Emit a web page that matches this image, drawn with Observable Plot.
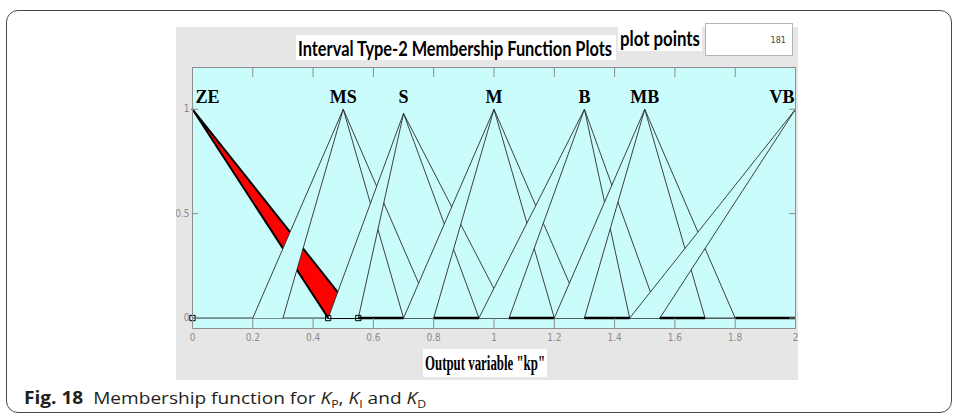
<!DOCTYPE html>
<html>
<head>
<meta charset="utf-8">
<script src="https://cdn.jsdelivr.net/npm/d3@7"></script>
<script src="https://cdn.jsdelivr.net/npm/@observablehq/plot@0.6"></script>
<style>
  html, body { margin: 0; padding: 0; background: #fff; }
  body { width: 955px; height: 415px; position: relative; overflow: hidden; }
  .abs { position: absolute; }
  .box { position: absolute; background: #fff; overflow: visible; white-space: nowrap; }
  .box > span { position: absolute; left: 2px; top: 0; display: inline-block; transform-origin: left center; }
  svg [aria-label*="axis"] text { fill: #8a8a8a; }
</style>
</head>
<body>
<div class="abs" style="left:6px; top:10px; width:944px; height:401px; border:1.5px solid #4a4a4a; border-radius:12px;"></div>
<div class="abs" style="left:176px; top:27px; width:622px; height:353px; background:#e6e6e6;"></div>
<div id="chart" class="abs" style="left:176px; top:27px;"></div>

<div class="box" data-fit="314" style="left:296px; top:35px; width:320px; height:25px;">
  <span style="font: bold 21px Lato, 'Open Sans', sans-serif; line-height:25px; color:#000;">Interval Type-2 Membership Function Plots</span>
</div>
<div class="box" data-fit="80" style="left:618px; top:25px; width:84px; height:26px;">
  <span style="font: bold 21px Lato, 'Open Sans', sans-serif; line-height:26px; color:#000;">plot points</span>
</div>
<div class="abs" style="left:705px; top:23px; width:88px; height:33px; background:#fff; border:1px solid #b5b5b5; box-sizing:border-box;">
  <span class="abs" style="right:6px; top:0; font: 9px 'Liberation Sans Narrow','DejaVu Sans Condensed',sans-serif; line-height:33px; color:#444;">181</span>
</div>
<div class="box" data-fit="120" style="left:423px; top:349px; width:124px; height:28px;">
  <span style="font: bold 20px 'Liberation Serif','Times New Roman',serif; line-height:28px; color:#000;">Output variable "kp"</span>
</div>
<div class="box" data-fit="402" style="left:22px; top:386px; width:410px; height:24px; background:transparent;">
  <span style="font: 17px 'Open Sans','Noto Sans',sans-serif; line-height:24px; color:#231f20;"><b>Fig. 18</b>&nbsp; Membership function for <i>K</i><sub style="font-size:11px">P</sub>, <i>K</i><sub style="font-size:11px">I</sub> and <i>K</i><sub style="font-size:11px">D</sub></span>
</div>

<script>
// ---- data ----
const mfNames      = ["ZE", "MS", "S", "M", "B", "MB", "VB"];
const peaks        = [0, 0.5, 0.7, 1.0, 1.3, 1.5, 2.0];
const peakHeights  = [1, 1, 0.98, 1, 1, 1, 1];
const upperLeft    = [null, 0.2, 0.45, 0.7, 0.95, 1.2, 1.45];
const lowerLeft    = [null, 0.3, 0.55, 0.8, 1.05, 1.3, 1.55];
const lowerRight   = [0.45, 0.7, 0.95, 1.2, 1.45, 1.7, null];
const upperRight   = [0.55, 0.8, 1.05, 1.3, 1.55, 1.8, null];
const zeroSegStart = [0.55, 0.8, 1.05, 1.3, 1.55, 1.8];
const zeroSegEnd   = [0.7, 0.95, 1.2, 1.45, 1.7, 2.0];
const markerX      = [0, 0.45, 0.55];
const xTicks       = [0, 0.2, 0.4, 0.6, 0.8, 1, 1.2, 1.4, 1.6, 1.8, 2];
const yTicks       = [0, 0.5, 1];

// ---- build FOU polygons ----
function fouPolygon(i) {
  const pts = [];
  if (upperLeft[i] != null) pts.push({x: upperLeft[i], y: 0});
  pts.push({x: peaks[i], y: peakHeights[i]});
  if (upperRight[i] != null) pts.push({x: upperRight[i], y: 0});
  if (lowerRight[i] != null) pts.push({x: lowerRight[i], y: 0});
  pts.push({x: peaks[i], y: peakHeights[i]});
  if (lowerLeft[i] != null) pts.push({x: lowerLeft[i], y: 0});
  return pts.map(p => ({...p, name: mfNames[i]}));
}
const labelData = mfNames.map((n, i) => ({name: n, x: peaks[i], y: peakHeights[i]}));
const zeroSegs = zeroSegStart.map((s, i) => ({x1: s, x2: zeroSegEnd[i]}));

const W = 622, H = 353, mL = 16, mR = 3, mT = 40, mB = 52;
const plotW = W - mL - mR, plotH = H - mT - mB;
const cyan = "#cbfcfc";

const polyMarks = mfNames.map((n, i) => Plot.line(fouPolygon(i), {
  x: "x", y: "y",
  fill: i === 0 ? "#ff0000" : cyan,
  stroke: i === 0 ? "#000" : "#2b2b2b",
  strokeWidth: i === 0 ? 2 : 0.9,
  strokeLinejoin: "miter"
}));

const labelStyle = {text: "name", lineAnchor: "bottom", fill: "#000", fontFamily: "'Liberation Serif','Times New Roman',serif", fontWeight: "bold", fontSize: 18, ariaLabel: "mf-label"};

const chart = Plot.plot({
  width: W, height: H,
  marginLeft: mL, marginRight: mR, marginTop: mT, marginBottom: mB,
  style: {background: "transparent", fontFamily: "'Liberation Sans Narrow','DejaVu Sans Condensed',sans-serif", fontSize: "10px", color: "#8a8a8a"},
  x: {domain: [0, 2], ticks: xTicks, tickSize: 0, tickPadding: 5, label: null, tickFormat: d => `${d}`},
  y: {domain: [-0.05, 1.2], ticks: yTicks, tickSize: 0, tickPadding: 3, label: null, tickFormat: d => `${d}`},
  marks: [
    Plot.frame({fill: cyan, stroke: "none"}),
    Plot.ruleY([0], {stroke: "#333", strokeWidth: 1}),
    ...polyMarks,
    Plot.link(zeroSegs, {x1: "x1", x2: "x2", y1: 0, y2: 0, stroke: "#000", strokeWidth: 2.5}),
    Plot.dot(markerX, {x: d => d, y: 0, symbol: "square", r: 3, stroke: "#000", strokeWidth: 1, fill: "none"}),
    Plot.ruleX(xTicks, {x: d => d, stroke: "#8a8a8a", insetTop: plotH - 10}),
    Plot.ruleX(xTicks, {x: d => d, stroke: "#8a8a8a", insetBottom: plotH - 10}),
    Plot.ruleY(yTicks, {y: d => d, stroke: "#8a8a8a", insetRight: plotW - 6}),
    Plot.ruleY(yTicks, {y: d => d, stroke: "#8a8a8a", insetLeft: plotW - 6}),
    Plot.frame({stroke: "#8f8f8f", fill: "none"}),
    Plot.text(labelData.slice(0, 1), {x: "x", y: 1, textAnchor: "start", dx: 3, dy: -6, ...labelStyle}),
    Plot.text(labelData.slice(1, 6), {x: "x", y: 1, textAnchor: "middle", dy: -6, ...labelStyle}),
    Plot.text(labelData.slice(6), {x: "x", y: 1, textAnchor: "end", dx: -1, dy: -6, ...labelStyle})
  ]
});
document.getElementById("chart").appendChild(chart);

// white boxes behind the MF labels, with a condensed look
const NS = "http://www.w3.org/2000/svg";
chart.querySelectorAll('g[aria-label="mf-label"] text').forEach(t => {
  const bb = t.getBBox();
  const tr = t.getAttribute("transform") || "";
  const cx = bb.x + bb.width / 2;
  const sq = ` translate(${cx},0) scale(0.72,1) translate(${-cx},0)`;
  t.setAttribute("transform", tr + sq);
  const r = document.createElementNS(NS, "rect");
  r.setAttribute("x", bb.x - 1);
  r.setAttribute("y", bb.y + 2);
  r.setAttribute("width", bb.width + 2);
  r.setAttribute("height", bb.height - 4);
  r.setAttribute("fill", "#fff");
  r.setAttribute("transform", tr + sq);
  t.parentNode.insertBefore(r, t);
});

// fit HTML texts to the widths seen in the reference
document.querySelectorAll("[data-fit]").forEach(el => {
  const inner = el.firstElementChild;
  const w = inner.getBoundingClientRect().width;
  inner.style.transform = `scaleX(${(+el.dataset.fit / w).toFixed(3)})`;
});
</script>
</body>
</html>
